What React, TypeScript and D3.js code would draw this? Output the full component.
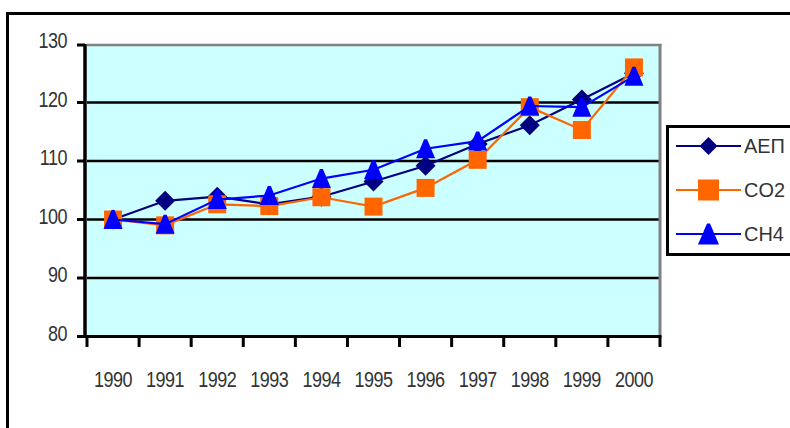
import React from "react";
import * as d3 from "d3";

const years = ["1990", "1991", "1992", "1993", "1994", "1995", "1996", "1997", "1998", "1999", "2000"];
const aep = [100, 103.2, 103.9, 102.6, 103.9, 106.5, 109.2, 112.9, 116.1, 120.5, 125.0];
const co2 = [100, 99.0, 102.6, 102.3, 103.8, 102.2, 105.4, 110.2, 119.2, 115.3, 126.0];
const ch4 = [100, 99.2, 103.4, 104.1, 107.0, 108.5, 112.1, 113.4, 119.4, 119.2, 124.5];
const yTicks = [80, 90, 100, 110, 120, 130];
const seriesNames = ["ΑΕΠ", "CO2", "CH4"];

const W = 790;
const H = 428;
const left = 87;
const right = 660;
const top = 44;
const bottom = 336.5;

const x = d3.scaleBand<string>().domain(years).range([left, right]).paddingInner(0).paddingOuter(0);
const y = d3.scaleLinear().domain([80, 130]).range([bottom, top]);

const line = d3
  .line<number>()
  .x((_, i) => (x(years[i]) as number) + x.bandwidth() / 2)
  .y((d) => y(d));

const FONT = "'Liberation Sans', Arial, sans-serif";
const TXT = "#333";

function Marker({ kind, cx, cy, color, size }: { kind: string; cx: number; cy: number; color: string; size: number }) {
  if (kind === "diamond") {
    const r = size / 2;
    return <polygon points={`${cx},${cy - r} ${cx + r},${cy} ${cx},${cy + r} ${cx - r},${cy}`} fill={color} />;
  }
  if (kind === "square") {
    return <rect x={cx - size / 2} y={cy - size / 2} width={size} height={size} fill={color} />;
  }
  const r = size / 2;
  return (
    <polygon
      points={`${cx - 1.5},${cy - r} ${cx + 1.5},${cy - r} ${cx + r},${cy + r} ${cx - r},${cy + r}`}
      fill={color}
    />
  );
}

const series = [
  { name: seriesNames[0], data: aep, color: "#000080", kind: "diamond", size: 20, lsize: 18 },
  { name: seriesNames[1], data: co2, color: "#FF6600", kind: "square", size: 18, lsize: 21 },
  { name: seriesNames[2], data: ch4, color: "#0000FF", kind: "triangle", size: 19, lsize: 21 },
];

export default function App() {
  const legendY = [146, 190, 234];
  return (
    <svg
      width={W}
      height={H}
      viewBox={`0 0 ${W} ${H}`}
      style={{ position: "absolute", left: 0, top: 0, background: "#fff" }}
    >
      <defs>
        <clipPath id="legclip">
          <rect x={660} y={120} width={126} height={140} />
        </clipPath>
      </defs>
      <rect x={0} y={0} width={W} height={H} fill="#fff" />
      {/* outer frame */}
      <rect x={7.5} y={13.5} width={W + 20} height={H + 20} fill="none" stroke="#000" strokeWidth={3} />

      {/* plot background */}
      <rect x={left} y={top} width={right - left} height={bottom - top} fill="#CCFFFF" />

      {/* gridlines */}
      {yTicks.slice(1, -1).map((t) => (
        <line key={t} x1={left} x2={right} y1={y(t)} y2={y(t)} stroke="#000" strokeWidth={2.5} />
      ))}
      {/* plot border top & right */}
      <line x1={left} x2={right + 1.5} y1={y(130) + 1} y2={y(130) + 1} stroke="#808080" strokeWidth={2.5} />
      <line x1={right} x2={right} y1={y(130)} y2={bottom} stroke="#808080" strokeWidth={3} />

      {/* axes */}
      <line x1={left - 2} x2={left - 2} y1={y(130)} y2={bottom + 1.5} stroke="#000" strokeWidth={3.5} />
      <line x1={left - 3.5} x2={right + 1.5} y1={bottom} y2={bottom} stroke="#000" strokeWidth={3} />
      {yTicks.map((t) => (
        <line key={t} x1={77} x2={left - 2} y1={y(t) + (t === 130 ? 1 : 0)} y2={y(t) + (t === 130 ? 1 : 0)} stroke="#000" strokeWidth={3} />
      ))}
      {years.concat(["end"]).map((yr, i) => {
        const xx = i < years.length ? (x(yr) as number) : right;
        return <line key={yr} x1={xx} x2={xx} y1={bottom} y2={347} stroke="#000" strokeWidth={3} />;
      })}

      {/* y labels */}
      {yTicks.map((t) => (
        <text
          key={t}
          x={67}
          y={0}
          textAnchor="end"
          fontFamily={FONT}
          fontSize={18}
          fill={TXT}
          transform={`translate(0 ${y(t) + 4}) scale(1 1.25)`}
          style={{ letterSpacing: "-0.5px" }}
        >
          {t}
        </text>
      ))}
      {/* x labels */}
      {years.map((yr) => (
        <text
          key={yr}
          x={(x(yr) as number) + x.bandwidth() / 2}
          y={0}
          textAnchor="middle"
          fontFamily={FONT}
          fontSize={18}
          fill={TXT}
          transform={`translate(0 387) scale(1 1.25)`}
          style={{ letterSpacing: "-0.5px" }}
        >
          {yr}
        </text>
      ))}

      {/* series */}
      {series.map((s) => (
        <g key={s.name}>
          <path d={line(s.data) || ""} fill="none" stroke={s.color} strokeWidth={2.2} />
          {s.data.map((v, i) => (
            <Marker
              key={i}
              kind={s.kind}
              cx={(x(years[i]) as number) + x.bandwidth() / 2}
              cy={y(v)}
              color={s.color}
              size={s.size}
            />
          ))}
        </g>
      ))}

      {/* legend */}
      <rect x={667.5} y={126.5} width={200} height={128} fill="#fff" stroke="#000" strokeWidth={3} />
      <g clipPath="url(#legclip)">
        {series.map((s, i) => (
          <g key={s.name}>
            <line x1={676} x2={741} y1={legendY[i]} y2={legendY[i]} stroke={s.color} strokeWidth={2.2} />
            <Marker kind={s.kind} cx={708.5} cy={legendY[i]} color={s.color} size={s.lsize} />
            <text
              x={0}
              y={0}
              fontFamily={FONT}
              fontSize={19}
              fill={TXT}
              transform={`translate(744 ${legendY[i] + 6.5}) scale(1.05 1.05)`}
            >
              {s.name}
            </text>
          </g>
        ))}
      </g>
    </svg>
  );
}
